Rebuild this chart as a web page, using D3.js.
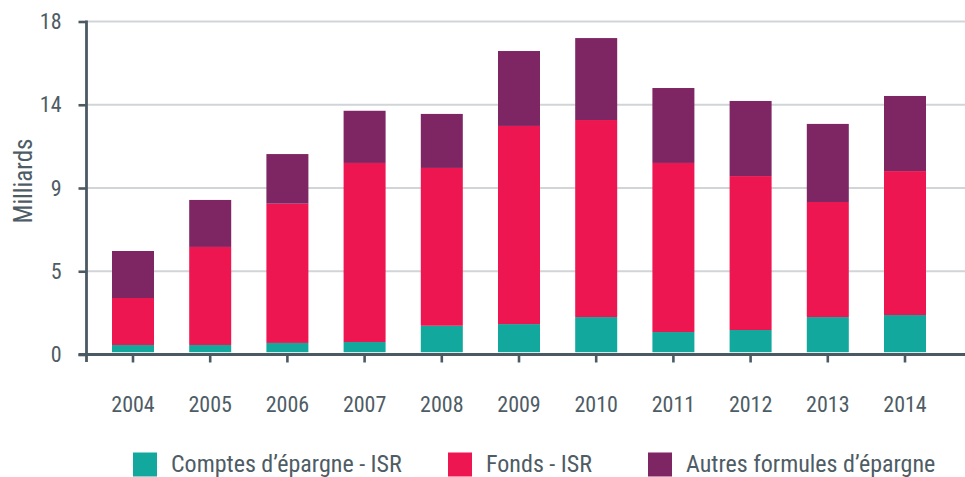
<!DOCTYPE html>
<html><head><meta charset="utf-8">
<script src="https://cdn.jsdelivr.net/npm/d3@7"></script>
<style>
html,body{margin:0;padding:0;background:#fff;}
svg{display:block;}
text{font-family:"Liberation Sans Narrow","Roboto Condensed",Roboto,sans-serif;fill:#4e5c65;}
</style></head>
<body>
<svg id="chart" width="965" height="477"></svg>
<script>
const years = ["2004","2005","2006","2007","2008","2009","2010","2011","2012","2013","2014"];
const comptes = [0.39,0.39,0.50,0.55,1.43,1.52,1.90,1.09,1.20,1.90,2.01];
const fonds   = [2.54,5.30,7.53,9.68,8.53,10.71,10.65,9.14,8.32,6.22,7.78];
const autres  = [2.54,2.54,2.68,2.82,2.92,4.05,4.43,4.05,4.06,4.22,4.06];
const seriesNames = ["Comptes d\u2019épargne - ISR","Fonds - ISR","Autres formules d\u2019épargne"];
const seriesKeys = ["comptes","fonds","autres"];
const colors = ["#12a89d","#ee1651","#7e2563"];
const yTickValues = [0,4.5,9,13.5,18];
const yTickLabels = ["0","5","9","14","18"];
const yTitle = "Milliards";

const FONT = '"Liberation Sans Narrow","Roboto Condensed",Roboto,sans-serif';
const svg = d3.select("#chart");
const axisColor = "#4b5a62";
const gridColor = "#d1d5d7";

const rows = years.map((y,i)=>({year:y, comptes:comptes[i], fonds:fonds[i], autres:autres[i]}));
const stack = d3.stack().keys(seriesKeys)(rows);

const x = d3.scaleBand().domain(years).range([94.4,943.6]).paddingInner(0.456).paddingOuter(0.228);
const y = d3.scaleLinear().domain([0,18]).range([354.5,21.5]);
const axisLeftX = 86.5;
const barLift = 2.3;

// gridlines
svg.append("g").selectAll("line").data(yTickValues.filter(v=>v>0)).join("line")
  .attr("x1",axisLeftX).attr("x2",965)
  .attr("y1",d=>y(d)).attr("y2",d=>y(d))
  .attr("stroke",gridColor).attr("stroke-width",2.2);

// bars
svg.append("g").selectAll("g").data(stack).join("g")
  .attr("fill",(d,i)=>colors[i])
  .selectAll("rect").data(d=>d).join("rect")
  .attr("x",d=>x(d.data.year))
  .attr("width",x.bandwidth())
  .attr("y",d=>y(d[1])-barLift)
  .attr("height",d=>y(d[0])-y(d[1]));

// y axis
const yAxis = d3.axisLeft(y).tickValues(yTickValues).tickFormat((d,i)=>yTickLabels[i]).tickSize(8).tickPadding(17);
const gy = svg.append("g").attr("transform",`translate(${axisLeftX},0)`).call(yAxis);
gy.select(".domain").remove();
gy.selectAll(".tick line").attr("stroke",axisColor).attr("stroke-width",2.6);
gy.selectAll(".tick text").attr("font-size",22).style("font-family",FONT).attr("fill","#4e5c65");
svg.append("line").attr("x1",axisLeftX).attr("x2",axisLeftX).attr("y1",y(18)-1).attr("y2",y(0)+7.5)
  .attr("stroke",axisColor).attr("stroke-width",2.8);

// x axis
const xAxis = d3.axisBottom(x).tickSize(8).tickPadding(34);
const gx = svg.append("g").attr("transform",`translate(0,${y(0)})`).call(xAxis);
gx.select(".domain").remove();
gx.selectAll(".tick line").attr("stroke",axisColor).attr("stroke-width",2.6);
gx.selectAll(".tick text").attr("font-size",22).style("font-family",FONT).attr("fill","#4e5c65");
svg.append("line").attr("x1",78.5).attr("x2",965).attr("y1",y(0)).attr("y2",y(0))
  .attr("stroke",axisColor).attr("stroke-width",2.8);

// y title
svg.append("text").attr("transform","translate(32,181) rotate(-90)")
  .attr("text-anchor","middle").attr("font-size",25).text(yTitle);

// legend
const legendX = [133,448,648];
const lg = svg.append("g").selectAll("g").data(seriesNames).join("g")
  .attr("transform",(d,i)=>`translate(${legendX[i]},452.5)`);
lg.append("rect").attr("width",24).attr("height",24).attr("fill",(d,i)=>colors[i]);
lg.append("text").attr("x",38).attr("y",11).attr("dy","0.35em").attr("font-size",24).text(d=>d);
</script>
</body></html>
